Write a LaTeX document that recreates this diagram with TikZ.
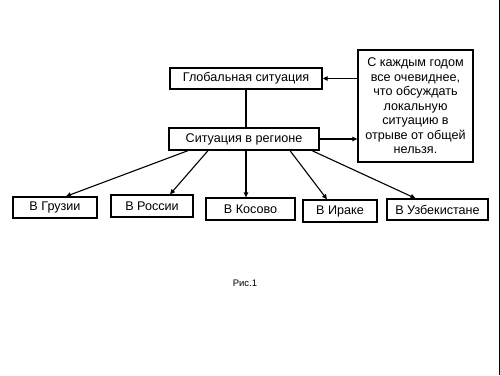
\documentclass[tikz,border=0pt]{standalone}
\usepackage{fontspec}
\setmainfont{Liberation Sans}
\usetikzlibrary{arrows.meta}
\begin{document}
\begin{tikzpicture}[x=1pt,y=-1pt,
  box/.style={draw,line width=1.3pt,inner sep=0pt,font=\fontsize{12.6}{14.5}\selectfont},
  link/.style={line width=1.1pt,-{Triangle[length=5pt,width=4.5pt]}}]
\useasboundingbox (0,0) rectangle (500,375);
\draw[line width=1pt] (499,0) -- (499,375);

\node[box,minimum width=152pt,minimum height=21pt] (global) at (246,78.5) {Глобальная ситуация};
\node[box,minimum width=150pt,minimum height=22pt] (region) at (244,139) {Ситуация в регионе};
\node[box,minimum width=115pt,minimum height=112pt,align=center] (note) at (415.5,106)
  {С каждым годом\\все очевиднее,\\что обсуждать\\локальную\\ситуацию в\\отрыве от общей\\нельзя.};

\node[box,minimum width=84pt,minimum height=21pt] (georgia) at (55,207.5) {В Грузии};
\node[box,minimum width=82pt,minimum height=22pt] (russia) at (152,206) {В России};
\node[box,minimum width=89pt,minimum height=22pt] (kosovo) at (250.5,209) {В Косово};
\node[box,minimum width=74pt,minimum height=22pt] (iraq) at (340,211) {В Ираке};
\node[box,minimum width=101pt,minimum height=21pt] (uzbek) at (437.5,209.5) {В Узбекистане};

\draw[line width=1.1pt] (global.south) -- (global.south |- region.north);
\draw[link] (note.west |- global) -- (global.east);
\draw[link] (region.east) -- (note.west |- region);

\draw[link] ([xshift=-56pt]region.south) -- ([xshift=11pt]georgia.north);
\draw[link] ([xshift=-36pt]region.south) -- ([xshift=18pt]russia.north);
\draw[link] (global.south |- region.south) -- (global.south |- kosovo.north);
\draw[link] ([xshift=46pt]region.south) -- ([xshift=-13pt]iraq.north);
\draw[link] ([xshift=68pt]region.south) -- ([xshift=-22pt]uzbek.north);

\node[font=\fontsize{9.5}{11}\selectfont] (fig) at (245,283) {Рис.1};
\end{tikzpicture}
\end{document}
